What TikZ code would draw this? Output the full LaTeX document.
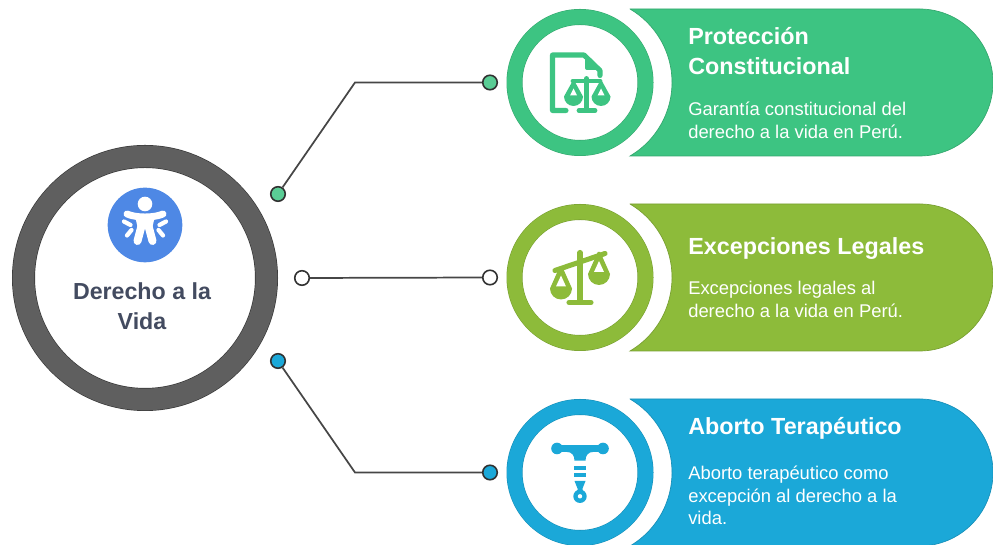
\documentclass[tikz,border=0pt]{standalone}
\usepackage{fontspec}
\setmainfont{Liberation Sans}
\usepackage{xcolor}
\usetikzlibrary{positioning}
\definecolor{dfgreen}{RGB}{61,196,130}
\definecolor{dfolive}{RGB}{141,187,58}
\definecolor{dfblue}{RGB}{27,168,216}
\definecolor{dfhub}{RGB}{78,136,229}
\definecolor{dfring}{RGB}{95,95,95}
\definecolor{dfedge}{RGB}{70,70,70}
\definecolor{dftext}{RGB}{67,75,96}
\tikzstyle{hubring} = [circle, minimum size=182.25pt, draw=dfedge!80!black, double=dfring, double distance=16.25pt, line width=0.5pt, fill=white]
\tikzstyle{iconring} = [circle, minimum size=98.25pt, double distance=11.2pt, line width=0.4pt, fill=white]
\tikzstyle{dot} = [circle, minimum size=10.9pt, inner sep=0pt, draw=dfedge!70!black, line width=1.2pt]
\tikzstyle{link} = [draw=dfedge, line width=1.3pt]
\tikzstyle{headline} = [anchor=base west, inner sep=0pt, align=left, text=white, font=\bfseries\fontsize{17.5}{22.5}\selectfont]
\tikzstyle{bodytext} = [anchor=base west, inner sep=0pt, align=left, text=white, font=\fontsize{13.8}{17.8}\selectfont]
\begin{document}
\begin{tikzpicture}[x=0.75pt,y=0.75pt]
\useasboundingbox (0,0) rectangle (993,545);
% Bands
\foreach \bandcolor/\yc in {dfgreen/462.5,dfolive/267.5,dfblue/72.5}{
  \filldraw[fill=\bandcolor, draw=\bandcolor!85!black, line width=0.5pt] (630,\yc+73.5) -- (919.5,\yc+73.5) arc[start angle=90,end angle=-90,radius=73.5] -- (630,\yc-73.5) arc[start angle=-59.5,end angle=59.5,radius=85.3] -- cycle;
}
% Hub
\node (hub) [hubring] at (145,267) {};
\node (hubicon) [circle, minimum size=56pt, fill=dfhub] at (145,320) {};
\node (hubtitle) [anchor=base, align=center, text=dftext, font=\bfseries\fontsize{17.4}{22.5}\selectfont] at (142,215) {Derecho a la\\Vida};
% Rings
\node (ringa) [iconring, draw=dfgreen!85!black, double=dfgreen] at (580,462.5) {};
\node (ringb) [iconring, draw=dfolive!85!black, double=dfolive] at (580,267.5) {};
\node (ringc) [iconring, draw=dfblue!85!black, double=dfblue] at (580,72.5) {};
% Dots
\node (hubdota) [dot, fill=dfgreen!85!white] at (278,351) {};
\node (hubdotb) [dot, fill=white] at (302,267) {};
\node (hubdotc) [dot, fill=dfblue] at (278,184) {};
\node (dota) [dot, fill=dfgreen!85!white] at (490,462.5) {};
\node (dotb) [dot, fill=white] at (490,267.5) {};
\node (dotc) [dot, fill=dfblue] at (490,72.5) {};
\coordinate (benda) at (355,462.5);
\coordinate (bendc) at (355,72.5);
\draw[link] (hubdota) -- (benda) -- (dota);
\draw[link] (hubdotb) -- (dotb);
\draw[link] (hubdotc) -- (bendc) -- (dotc);
% Texts
\node (heada) [headline] at (688,470) {Protección\\Constitucional};
\node (bodya) [bodytext] at (688,406) {Garantía constitucional del\\derecho a la vida en Perú.};
\node (headb) [headline] at (688,290) {Excepciones Legales};
\node (bodyb) [bodytext] at (688,227) {Excepciones legales al\\derecho a la vida en Perú.};
\node (headc) [headline] at (688,110) {Aborto Terapéutico};
\node (bodyc) [bodytext, font=\fontsize{13.8}{17.1}\selectfont] at (688,20) {Aborto terapéutico como\\excepción al derecho a la\\vida.};
% Hub icon
\begin{scope}[shift={(145,320)}, white, line cap=round]
\fill (0,21) circle (7.3);
\draw[line width=5.2pt] (-18,11) .. controls (-9,7) and (9,7) .. (18,11);
\fill (-10,9) -- (10,9) -- (7,-4) -- (-7,-4) -- cycle;
\draw[line width=6pt] (-3.5,-1) -- (-7.5,-16);
\draw[line width=6pt] (3.5,-1) -- (7.5,-16);
\draw[line width=3.2pt] (-21,3.5) -- (-14.5,0);
\draw[line width=3.2pt] (21,3.5) -- (14.5,0);
\draw[line width=3.2pt] (-18,-10.5) -- (-13.5,-5);
\draw[line width=3.2pt] (18,-10.5) -- (13.5,-5);
\end{scope}
% Document and scale icon
\begin{scope}[shift={(580,462.5)}, dfgreen]
\draw[line width=3.8pt, line cap=round, line join=round] (-14,-28) -- (-27.5,-28) -- (-27.5,27.5) -- (4,27.5) -- (20,12) -- (20,7);
\fill[rounded corners=1.5] (5,28) -- (5,12.5) -- (21,12.5) -- cycle;
\draw[line width=3.6pt, line cap=round] (-7,1.5) -- (20,1.5);
\draw[line width=3.6pt, line cap=round] (6.5,4) -- (6.5,-28);
\draw[line width=3.6pt, line cap=round] (-1,-28) -- (15,-28);
\foreach \pan in {-6.5,21}{
  \fill (\pan-9.5,-14) arc[start angle=180,end angle=360,radius=9.5] -- (\pan+1.2,1) -- (\pan-1.2,1) -- cycle;
  \fill[white] (\pan-3.5,-13) -- (\pan+3.5,-13) -- (\pan,-6) -- cycle;
}
\end{scope}
% Balance icon
\begin{scope}[shift={(580,267.5)}, dfolive]
\draw[line width=3.8pt, line cap=round] (-25,7) -- (25,24);
\draw[line width=3.8pt, line cap=round] (0,25) -- (0,-24);
\draw[line width=3.8pt, line cap=round] (-11,-25) -- (11,-25);
\foreach \pan/\lift in {-19/0,19/14.5}{
  \fill (\pan-11,-11+\lift) arc[start angle=180,end angle=360,radius=11] -- (\pan+1.2,11+\lift) -- (\pan-1.2,11+\lift) -- cycle;
  \fill[white] (\pan-5,-9+\lift) -- (\pan+5,-9+\lift) -- (\pan,2+\lift) -- cycle;
}
\end{scope}
% Coil icon
\begin{scope}[shift={(580,72.5)}, dfblue]
\fill (-23,24) circle (5.8);
\fill (23,24) circle (5.8);
\fill (-23,27.3) -- (23,27.3) -- (23,20.7) -- (14,20.7) .. controls (8,20.7) and (5.5,17) .. (5.5,11.8) -- (-5.5,11.8) .. controls (-5.5,17) and (-8,20.7) .. (-14,20.7) -- (-23,20.7) -- cycle;
\fill (-6,6) rectangle (6,2.8);
\fill (-6,-0.5) rectangle (6,-4.8);
\fill (-5.5,-8.5) -- (5.5,-8.5) -- (2.5,-16) -- (2.5,-19) -- (-2.5,-19) -- (-2.5,-16) -- cycle;
\fill (0,-23.8) circle (6.7);
\fill[white] (0,-23.8) circle (2.2);
\end{scope}
\end{tikzpicture}
\end{document}
